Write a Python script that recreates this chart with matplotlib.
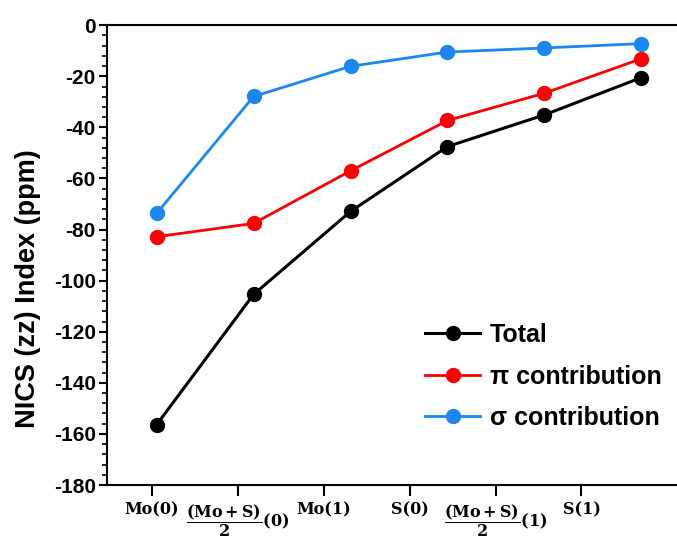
import numpy as np
import matplotlib
matplotlib.use('Agg')
import matplotlib.pyplot as plt
from matplotlib.ticker import MultipleLocator

# =====================================================
# Data
# =====================================================

sites = ['Mo(0)', r'$\mathbf{\dfrac{(Mo+S)}{2}(0)}$', 'Mo(1)', 'S(0)',
         r'$\mathbf{\dfrac{(Mo+S)}{2}(1)}$', 'S(1)']

total = [-156.4, -105.4, -72.9, -47.5, -35.1, -20.5]
pi_contrib = [-82.8, -77.6, -57.0, -37.3, -26.6, -13.1]
sigma_contrib = [-73.7, -27.9, -16.1, -10.5, -8.9, -7.2]

# =====================================================
# Plot
# =====================================================

plt.rcParams['mathtext.fontset'] = 'dejavuserif'
plt.rcParams['axes.unicode_minus'] = False

fig = plt.figure(figsize=(6.77, 5.54), dpi=100)
ax = fig.add_axes([0.158, 0.1245, 0.861, 0.830])

x = np.arange(len(sites))

ax.plot(x, total, color='black', lw=2.2, marker='o', ms=10, label='Total')
ax.plot(x, pi_contrib, color='#ff0000', lw=2.0, marker='o', ms=10,
        label='\u03c0 contribution')
ax.plot(x, sigma_contrib, color='#1a88f0', lw=2.0, marker='o', ms=10,
        label='\u03c3 contribution')

ax.set_xlim(-0.512, 5.5)
ax.set_ylim(-180, 0)

# ticks sit slightly off the points, as in the original
tick_pos = np.arange(len(sites)) * 0.886 - 0.048
ax.set_xticks(tick_pos)
ax.set_xticklabels(sites, fontfamily='DejaVu Serif', fontweight='bold',
                   fontsize=11.5, va='top')

ax.yaxis.set_major_locator(MultipleLocator(20))
ax.yaxis.set_minor_locator(MultipleLocator(4))
for lab in ax.get_yticklabels():
    lab.set_fontfamily('Liberation Sans')
    lab.set_fontweight('bold')
    lab.set_fontsize(15)

ax.tick_params(axis='x', which='major', direction='out', length=8, width=1.5,
               pad=4)
ax.tick_params(axis='y', which='major', direction='out', length=6, width=1.5,
               pad=2)
ax.tick_params(axis='y', which='minor', direction='out', length=3.5, width=1.2)

for side in ['left', 'bottom', 'top']:
    ax.spines[side].set_linewidth(1.5)
ax.spines['right'].set_visible(False)

ax.set_ylabel('NICS (zz) Index (ppm)', fontfamily='Liberation Sans',
              fontweight='bold', fontsize=19.5)
ax.yaxis.set_label_coords(-0.113, 0.428)

leg = ax.legend(loc='upper left', bbox_to_anchor=(425 / 677, 1 - 323 / 554),
                bbox_transform=fig.transFigure, frameon=False,
                prop={'family': 'Liberation Sans', 'weight': 'bold', 'size': 18},
                handlelength=2.2, handletextpad=0.4, labelspacing=0.7,
                borderpad=0, borderaxespad=0)

fig.savefig('out.png', dpi=100)
